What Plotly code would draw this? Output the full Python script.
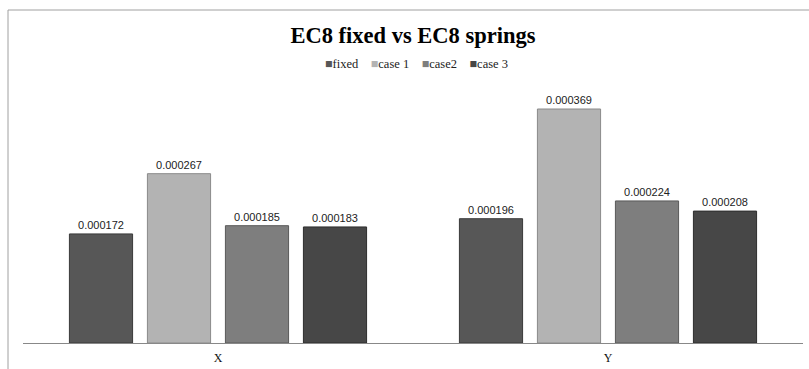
import plotly.graph_objects as go

categories = ["X", "Y"]
series_names = ["fixed", "case 1", "case2", "case 3"]
fixed = [0.000172, 0.000196]
case1 = [0.000267, 0.000369]
case2 = [0.000185, 0.000224]
case3 = [0.000183, 0.000208]
series_values = [fixed, case1, case2, case3]
colors = ["#575757", "#b3b3b3", "#7e7e7e", "#474747"]
edge_colors = ["#3a3a3a", "#8a8a8a", "#5a5a5a", "#2e2e2e"]

W, H = 809, 369
L, R, T, B = 23, 6, 80, 26
plot_w = W - L - R
plot_h = H - T - B

fig = go.Figure()
for name, vals, c, ec in zip(series_names, series_values, colors, edge_colors):
    fig.add_trace(go.Bar(
        x=categories, y=vals, name=name,
        marker=dict(color=c, line=dict(color=ec, width=1)),
        text=[f"{v:.6f}" for v in vals],
        textposition="outside",
        textfont=dict(family="Liberation Sans", size=11, color="#222222"),
        cliponaxis=False,
        showlegend=False,
    ))

def px_x(p):
    return (p - L) / plot_w

def px_y(p):
    return (H - B - p) / plot_h

legend_text = "&nbsp;&nbsp;&nbsp;&nbsp;".join(
    f'<span style="color:{c}">■</span>{n}' for n, c in zip(series_names, colors)
)

fig.update_layout(
    width=W, height=H,
    margin=dict(l=L, r=R, t=T, b=B, autoexpand=False),
    paper_bgcolor="white", plot_bgcolor="white",
    barmode="group", bargap=0.2, bargroupgap=0.19,
    title=dict(text="<b>EC8 fixed vs EC8 springs</b>", x=(413) / W, xanchor="center",
               y=1 - 35 / H, yanchor="middle",
               font=dict(family="Liberation Serif", size=22.5, color="#000000")),
    xaxis=dict(showline=True, linecolor="#888888", linewidth=1, ticks="outside", ticklen=4,
               tickcolor="rgba(0,0,0,0)", automargin=False,
               tickfont=dict(family="Liberation Serif", size=12, color="#111111"),
               showgrid=False, zeroline=False),
    yaxis=dict(range=[0, (H - B - T) / 634146], visible=False, showgrid=False, zeroline=False,
               automargin=False),
    annotations=[dict(text=legend_text, xref="paper", yref="paper", x=px_x(416), y=px_y(64),
                      xanchor="center", yanchor="middle", showarrow=False,
                      font=dict(family="Liberation Serif", size=12.5, color="#222222"))],
    shapes=[
        dict(type="line", xref="paper", yref="paper", x0=px_x(8), x1=px_x(809), y0=px_y(10), y1=px_y(10),
             line=dict(color="#a0a0a0", width=1)),
        dict(type="line", xref="paper", yref="paper", x0=px_x(8), x1=px_x(8), y0=px_y(10), y1=px_y(369),
             line=dict(color="#a0a0a0", width=1)),
    ],
)

fig.write_html("out.html")
